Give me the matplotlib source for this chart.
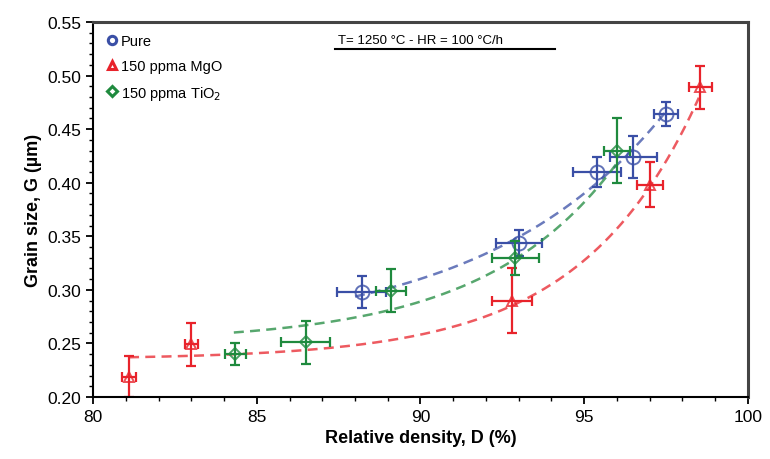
import numpy as np
import matplotlib
matplotlib.use("Agg")
import matplotlib.pyplot as plt
from matplotlib.ticker import MultipleLocator

plt.rcParams['font.family'] = ['Liberation Sans', 'DejaVu Sans']

# datos
pure_x = [88.2, 93.0, 95.4, 96.5, 97.5]
pure_y = [0.298, 0.344, 0.410, 0.424, 0.464]
pure_xerr = [0.75, 0.70, 0.73, 0.72, 0.37]
pure_yerr = [0.015, 0.012, 0.014, 0.020, 0.011]

mgo_x = [81.1, 83.0, 92.8, 97.0, 98.55]
mgo_y = [0.219, 0.249, 0.290, 0.398, 0.489]
mgo_xerr = [0.20, 0.20, 0.62, 0.40, 0.34]
mgo_yerr = [0.019, 0.020, 0.030, 0.021, 0.020]

tio_x = [84.35, 86.5, 89.1, 92.9, 96.0]
tio_y = [0.240, 0.251, 0.299, 0.330, 0.430]
tio_xerr = [0.33, 0.75, 0.46, 0.73, 0.40]
tio_yerr = [0.010, 0.020, 0.020, 0.016, 0.030]

# puntos de las curvas de ajuste (lineas discontinuas)
pure_fit_x = [88.0, 90.0, 93.0, 95.4, 97.5]
pure_fit_y = [0.295, 0.310, 0.345, 0.405, 0.465]
mgo_fit_x = [81.1, 86.5, 90.0, 92.8, 97.0, 98.5]
mgo_fit_y = [0.235, 0.245, 0.260, 0.285, 0.395, 0.480]
tio_fit_x = [84.3, 86.5, 89.0, 92.8, 95.0, 96.0]
tio_fit_y = [0.257, 0.268, 0.285, 0.325, 0.380, 0.420]

blue = "#3a4fa6"
red = "#e8232b"
green = "#1f8a3e"


def ajuste_exp(x, y):
    # y = a + b*exp(c*x), barrido de c y minimos cuadrados para a y b
    x = np.array(x)
    y = np.array(y)
    mejor = None
    for c in np.linspace(0.05, 1.5, 600):
        A = np.column_stack([np.ones_like(x), np.exp(c * (x - 90))])
        coef, res, _, _ = np.linalg.lstsq(A, y, rcond=None)
        err = np.sum((A @ coef - y) ** 2)
        if mejor is None or err < mejor[0]:
            mejor = (err, c, coef)
    _, c, coef = mejor
    return lambda t: coef[0] + coef[1] * np.exp(c * (t - 90))


fig = plt.figure(figsize=(7.7, 4.6), dpi=100)
ax = fig.add_axes([0.1208, 0.1348, 0.8506, 0.8152])

series = [
    (pure_x, pure_y, pure_xerr, pure_yerr, pure_fit_x, pure_fit_y, blue, "o", 10, "Pure"),
    (mgo_x, mgo_y, mgo_xerr, mgo_yerr, mgo_fit_x, mgo_fit_y, red, "^", 7, "150 ppma MgO"),
    (tio_x, tio_y, tio_xerr, tio_yerr, tio_fit_x, tio_fit_y, green, "D", 6, "150 ppma TiO$_2$"),
]

for x, y, xe, ye, fx, fy, col, mk, ms, lab in series:
    f = ajuste_exp(fx, fy)
    xs = np.linspace(min(fx), max(fx), 200)
    ax.plot(xs, f(xs), linestyle=(0, (4, 2.5)), color=col, linewidth=1.8, alpha=0.75)
    ax.errorbar(x, y, xerr=xe, yerr=ye, fmt="none", ecolor=col, elinewidth=1.6,
                capsize=3.5, capthick=1.6)
    ax.plot(x, y, linestyle="none", marker=mk, markersize=ms, markerfacecolor="none",
            markeredgecolor=col, markeredgewidth=1.4, alpha=0.8)
    # marcador de la leyenda
    ax.plot([], [], linestyle="none", marker=mk, markersize=6 if mk != "D" else 5,
            markerfacecolor="none", markeredgecolor=col, markeredgewidth=2.2, label=lab)

ax.set_xlim(80, 100)
ax.set_ylim(0.20, 0.55)
ax.xaxis.set_major_locator(MultipleLocator(5))
ax.xaxis.set_minor_locator(MultipleLocator(1))
ax.yaxis.set_major_locator(MultipleLocator(0.05))
ax.yaxis.set_minor_locator(MultipleLocator(0.01))
ax.yaxis.set_major_formatter(matplotlib.ticker.FormatStrFormatter("%.2f"))
ax.tick_params(which="both", direction="out", top=False, right=False, labelsize=12.5)
ax.tick_params(which="major", length=5, width=1.3)
ax.tick_params(which="minor", length=3, width=1.0)

for s in ["left", "bottom"]:
    ax.spines[s].set_linewidth(1.5)
for s in ["top", "right"]:
    ax.spines[s].set_linewidth(2.2)
    ax.spines[s].set_color("#444444")

ax.set_xlabel("Relative density, D (%)", fontsize=13, fontweight="bold")
ax.set_ylabel("Grain size, G (\u00b5m)", fontsize=13, fontweight="bold")

ax.legend(loc="upper left", frameon=False, fontsize=10.5, handletextpad=0.1,
          handlelength=1.0, borderaxespad=0.4, labelspacing=0.75)

# texto con subrayado
ax.text(0.5, 0.935, "T= 1250 \u00b0C - HR = 100 \u00b0C/h", transform=ax.transAxes,
        ha="center", va="bottom", fontsize=9.5)
ax.plot([0.37, 0.705], [0.928, 0.928], transform=ax.transAxes, color="black",
        linewidth=1.5, clip_on=False)

plt.savefig("out.png", dpi=100)
